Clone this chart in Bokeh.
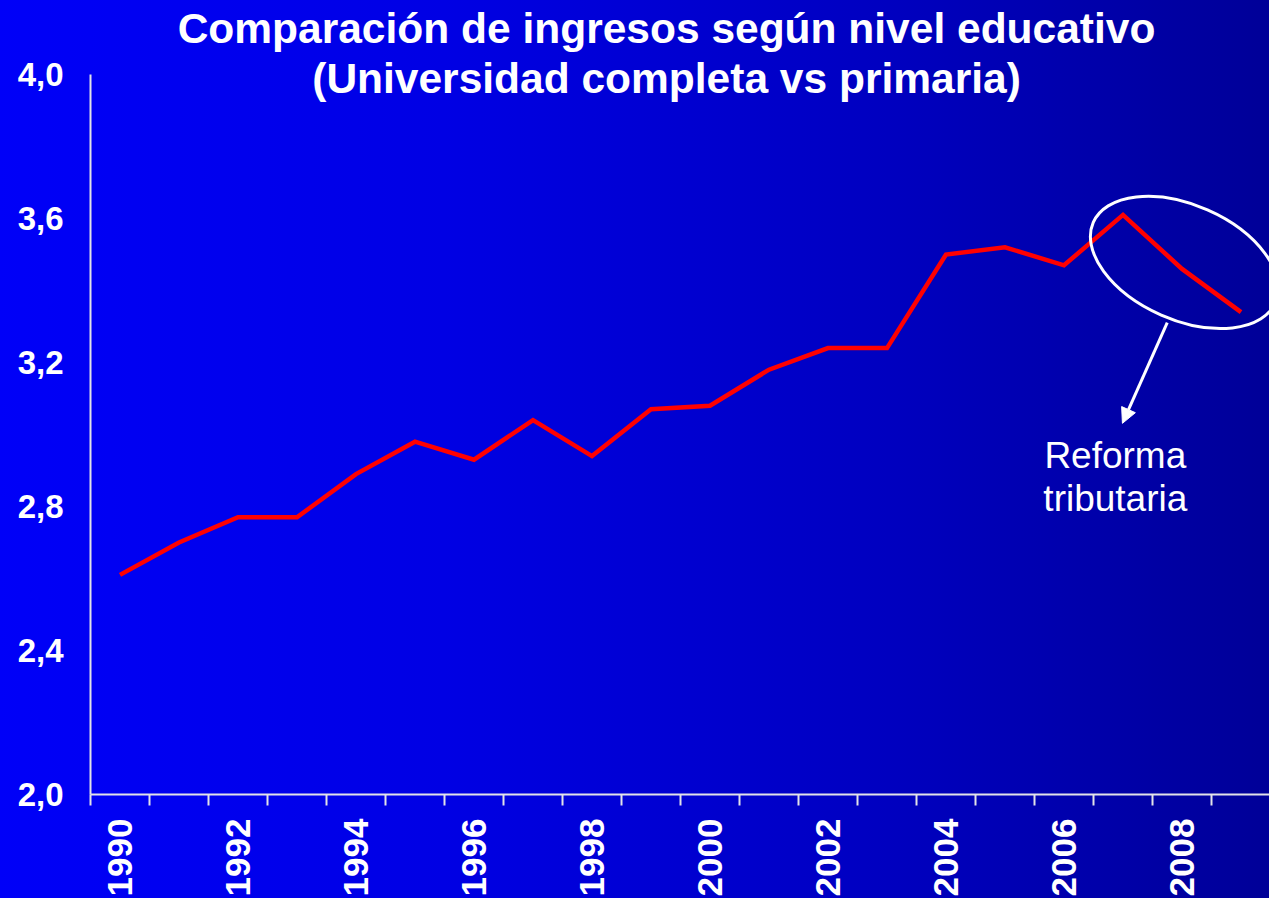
import math
from bokeh.plotting import figure
from bokeh.models import (LinearAxis, FixedTicker, CustomJSTickFormatter, Range1d,
                          Label, Arrow, NormalHead)
from bokeh.embed import file_html
from bokeh.resources import INLINE

# ---- data ----
years = list(range(1990, 2010))
ratio = [2.61, 2.70, 2.77, 2.77, 2.89, 2.98, 2.93, 3.04, 2.94, 3.07,
         3.08, 3.18, 3.24, 3.24, 3.50, 3.52, 3.47, 3.61, 3.46, 3.34]
x_tick_years = list(range(1990, 2010, 2))
y_ticks = [2.0, 2.4, 2.8, 3.2, 3.6, 4.0]
title_lines = ["Comparación de ingresos según nivel educativo",
               "(Universidad completa vs primaria)"]
note_lines = ["Reforma", "tributaria"]

# ---- layout (pixels per data unit) ----
PX_X = 59.0
PX_Y = 360.0
W, H = 1269, 898
X0 = 1989.5 - 90 / PX_X
X1 = X0 + W / PX_X
Y1 = 4.0 + 74 / PX_Y
Y0 = Y1 - H / PX_Y
LIFT = 15 / PX_Y  # text baseline correction

FONT = "Liberation Sans"
AXIS_COLOR = "#e2e2e8"

p = figure(width=W, height=H, output_backend="svg", toolbar_location=None,
           x_range=Range1d(X0, X1), y_range=Range1d(Y0, Y1),
           x_axis_location=None, y_axis_location=None, min_border=0)
p.styles = {"background": "linear-gradient(to right, #0000f8 0%, #0000e4 35%, #0000c0 70%, #000098 100%)"}
p.background_fill_alpha = 0
p.border_fill_alpha = 0
p.outline_line_color = None
p.grid.visible = False

xaxis = LinearAxis(
    fixed_location=2.0,
    ticker=FixedTicker(ticks=x_tick_years,
                       minor_ticks=[y - 0.5 for y in years] + [years[-1] + 0.5]),
    formatter=CustomJSTickFormatter(code="return tick.toFixed(0);"),
    bounds=(years[0] - 0.5, years[-1] + 0.5),
)
xaxis.axis_line_color = AXIS_COLOR
xaxis.axis_line_width = 2
xaxis.major_tick_out = 0
xaxis.major_tick_in = 0
xaxis.major_tick_line_color = None
xaxis.minor_tick_out = 11
xaxis.minor_tick_in = 0
xaxis.minor_tick_line_color = AXIS_COLOR
xaxis.minor_tick_line_width = 2
xaxis.major_label_orientation = math.pi / 2
xaxis.major_label_standoff = 13
xaxis.major_label_text_font = FONT
xaxis.major_label_text_font_style = "bold"
xaxis.major_label_text_font_size = "35px"
xaxis.major_label_text_color = "white"
p.add_layout(xaxis, "below")

yaxis = LinearAxis(
    fixed_location=years[0] - 0.5,
    ticker=FixedTicker(ticks=y_ticks),
    formatter=CustomJSTickFormatter(code="return tick.toFixed(1).replace('.', ',');"),
    bounds=(y_ticks[0], y_ticks[-1]),
)
yaxis.axis_line_color = AXIS_COLOR
yaxis.axis_line_width = 2
yaxis.major_tick_out = 0
yaxis.major_tick_in = 0
yaxis.major_tick_line_color = None
yaxis.minor_tick_line_color = None
yaxis.major_label_standoff = 27
yaxis.major_label_text_font = FONT
yaxis.major_label_text_font_style = "bold"
yaxis.major_label_text_font_size = "33px"
yaxis.major_label_text_color = "white"
p.add_layout(yaxis, "left")

# ---- series ----
p.line(years, ratio, line_color="#ff0000", line_width=4.5, line_join="miter")

# ---- annotations ----
p.ellipse(x=[2008.04], y=[3.478], width=199, height=115,
          width_units="screen", height_units="screen", angle=-0.414,
          fill_color=None, line_color="white", line_width=3)

p.add_layout(Arrow(x_start=2007.75, y_start=3.311, x_end=2006.99, y_end=3.031,
                   line_color="white", line_width=3,
                   end=NormalHead(size=15, fill_color="white", line_color="white")))

for txt, yy in zip(note_lines, [2.90, 2.7806]):
    p.add_layout(Label(x=2006.87, y=yy + LIFT, text=txt, text_align="center",
                       text_baseline="alphabetic", text_font=FONT,
                       text_font_size="37px", text_color="white"))

for txt, yy in zip(title_lines, [4.0861, 3.9472]):
    p.add_layout(Label(x=1999.263, y=yy + LIFT, text=txt, text_align="center",
                       text_baseline="alphabetic", text_font=FONT,
                       text_font_style="bold", text_font_size="42.5px",
                       text_color="white"))

open("out.html", "w").write(file_html(p, INLINE))
